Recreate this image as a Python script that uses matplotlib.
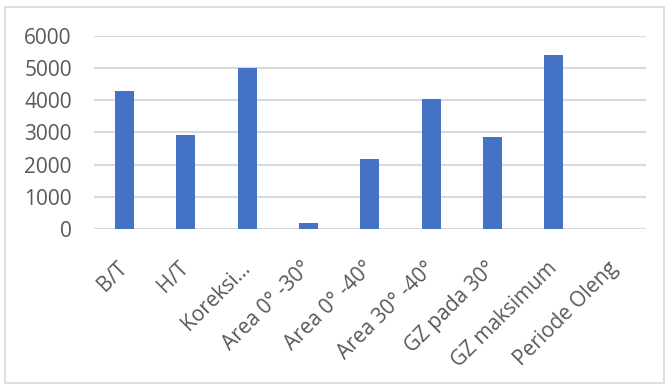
import matplotlib.pyplot as plt
from matplotlib.patches import Rectangle

categories = ["B/T", "H/T", "Koreksi…", "Area 0° -30°", "Area 0° -40°",
              "Area 30° -40°", "GZ pada 30°", "GZ maksimum", "Periode Oleng"]
values = [4280, 2910, 5000, 190, 2160, 4040, 2850, 5400, 15]
yticks = [0, 1000, 2000, 3000, 4000, 5000, 6000]

plt.rcParams['font.family'] = ['Open Sans', 'DejaVu Sans']

fig = plt.figure(figsize=(6.68, 3.85), dpi=100)
ax = fig.add_axes([0.1407, 0.405, 0.967 - 0.1407, 0.907 - 0.405])

x = range(len(categories))
ax.bar(x, values, width=0.31, color="#4472C4", zorder=3)

ax.set_xlim(-0.5, len(categories) - 0.5)
ax.set_ylim(0, 6000)
ax.set_yticks(yticks)
ax.set_yticklabels([str(v) for v in yticks])
ax.set_xticks(list(x))
ax.set_xticklabels(categories, rotation=45, ha="right", va="center",
                   rotation_mode="anchor")

ax.grid(axis="y", color="#d9d9d9", linewidth=1.5, zorder=0)
for s in ax.spines.values():
    s.set_visible(False)
ax.tick_params(axis="both", length=0, labelsize=15, colors="#595959")
ax.tick_params(axis="x", pad=26)
ax.tick_params(axis="y", pad=16)

# outer chart border
fig.patches.append(Rectangle((5 / 668, 2 / 385), 659 / 668, 376 / 385,
                             transform=fig.transFigure, fill=False,
                             edgecolor="#d9d9d9", linewidth=1.2))

fig.savefig("out.png", dpi=100)
